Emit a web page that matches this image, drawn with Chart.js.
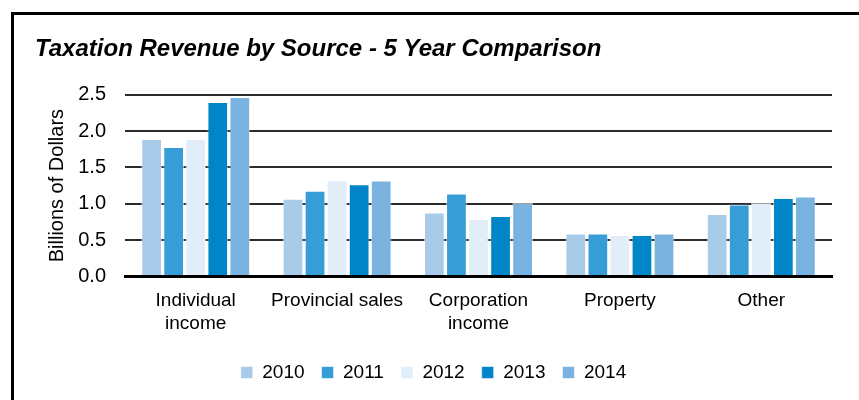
<!DOCTYPE html>
<html>
<head>
<meta charset="utf-8">
<script src="https://cdn.jsdelivr.net/npm/chart.js@4.4.1/dist/chart.umd.min.js"></script>
<style>
  html, body { margin: 0; padding: 0; background: #fff; }
  #wrap { position: relative; width: 859px; height: 400px; overflow: hidden; }
  #frame { position: absolute; left: 11px; top: 12px; width: 900px; height: 450px;
           border-left: 3px solid #000; border-top: 3px solid #000; }
  #c { position: absolute; left: 0; top: 0; }
</style>
</head>
<body>
<div id="wrap">
  <div id="frame"></div>
  <canvas id="c" width="859" height="400"></canvas>
</div>
<script>
const categories = [['Individual', 'income'], 'Provincial sales', ['Corporation', 'income'], 'Property', 'Other'];
const years = ['2010', '2011', '2012', '2013', '2014'];
const v2010 = [1.89, 1.07, 0.88, 0.59, 0.86];
const v2011 = [1.78, 1.18, 1.14, 0.59, 0.99];
const v2012 = [1.89, 1.32, 0.79, 0.57, 1.01];
const v2013 = [2.40, 1.27, 0.83, 0.57, 1.08];
const v2014 = [2.47, 1.32, 1.01, 0.59, 1.10];
const yTicks = [0, 0.5, 1.0, 1.5, 2.0, 2.5];
const colors = ['#A9CBEA', '#379DD7', '#E1EDF8', '#0085C9', '#7BB3E0'];
const series = [v2010, v2011, v2012, v2013, v2014];

const FONT = "'Liberation Sans', Arial, sans-serif";

new Chart(document.getElementById('c'), {
  type: 'bar',
  data: {
    labels: categories,
    datasets: series.map((d, i) => ({
      label: years[i],
      data: d,
      backgroundColor: colors[i],
      borderColor: 'rgba(255,255,255,0.55)',
      borderWidth: 1,
      categoryPercentage: 0.78,
      barPercentage: 0.94
    }))
  },
  options: {
    responsive: false,
    animation: false,
    layout: { padding: { left: 35, right: 27, top: 16, bottom: 8 } },
    plugins: {
      title: {
        display: true,
        text: 'Taxation Revenue by Source - 5 Year Comparison',
        align: 'start',
        color: '#000',
        font: { family: FONT, size: 24, style: 'italic', weight: 'bold', lineHeight: 1.2 },
        padding: { top: 19, bottom: 31 }
      },
      legend: {
        position: 'bottom',
        labels: {
          color: '#000',
          font: { family: FONT, size: 19 },
          boxWidth: 12,
          boxHeight: 12,
          padding: 17
        }
      },
      tooltip: { enabled: false }
    },
    scales: {
      x: {
        afterFit: (axis) => { axis.height += 6; },
        grid: { display: false },
        border: { display: true, color: '#000', width: 3 },
        ticks: { color: '#000', font: { family: FONT, size: 19, lineHeight: 1.2 }, padding: 5, maxRotation: 0, autoSkip: false }
      },
      y: {
        min: 0,
        max: 2.5,
        afterBuildTicks: (axis) => { axis.ticks = yTicks.map(v => ({ value: v })); },
        afterFit: (axis) => { axis.width = 90; },
        border: { display: false },
        grid: {
          color: (ctx) => ctx.tick && ctx.tick.value === 0 ? '#000' : '#2b2b2b',
          lineWidth: (ctx) => ctx.tick && ctx.tick.value === 0 ? 3 : 2,
          drawTicks: false
        },
        ticks: {
          color: '#000',
          font: { family: FONT, size: 20 },
          padding: 19,
          callback: (v) => Number(v).toFixed(1)
        },
        title: {
          display: true,
          text: 'Billions of Dollars',
          color: '#000',
          font: { family: FONT, size: 20, lineHeight: 1.2 },
          padding: { top: 10, bottom: 4 }
        }
      }
    }
  }
});
</script>
</body>
</html>
